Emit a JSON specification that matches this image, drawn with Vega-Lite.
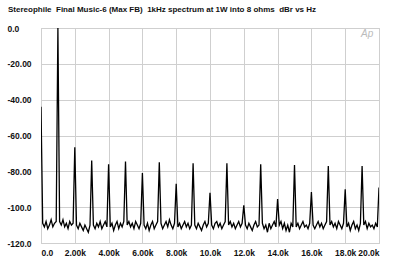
{
  "$schema": "https://vega.github.io/schema/vega-lite/v6.json",
  "width": 338,
  "height": 215,
  "autosize": {"type": "none"},
  "padding": {"left": 41, "top": 28, "right": 21, "bottom": 20},
  "background": "white",
  "title": {
    "text": "Stereophile \u00a0Final Music-6 (Max FB) \u00a01kHz spectrum at 1W into 8 ohms \u00a0dBr vs Hz",
    "anchor": "start",
    "frame": "group",
    "dx": -33,
    "offset": 10,
    "font": "Liberation Sans",
    "fontSize": 8,
    "fontWeight": "bold",
    "color": "#111"
  },
  "config": {
    "view": {"stroke": "#c8c8c8", "strokeWidth": 1},
    "axis": {
      "labelFont": "Liberation Sans",
      "labelFontWeight": "bold",
      "labelFontSize": 8.5,
      "labelColor": "#111",
      "labelOverlap": false,
      "labelBound": false,
      "gridColor": "#cfcfcf",
      "gridWidth": 1,
      "gridOpacity": 1,
      "domain": false,
      "ticks": false,
      "title": null
    }
  },
  "encoding": {
    "x": {
      "field": "f", "type": "quantitative",
      "scale": {"domain": [0, 20000], "nice": false, "zero": false},
      "axis": {
        "values": [0,2000,4000,6000,8000,10000,12000,14000,16000,18000,20000],
        "tickCount": 20,
        "labelPadding": 5,
        "labelOverlap": false,
        "labelExpr": "datum.value == 0 ? '0.0' : (datum.value < 10000 ? format(datum.value/1000, '.2f') + 'k' : format(datum.value/1000, '.1f') + 'k')"
      }
    },
    "y": {
      "field": "db", "type": "quantitative",
      "scale": {"domain": [-120, 0], "nice": false},
      "axis": {
        "values": [0,-20,-40,-60,-80,-100,-120],
        "tickCount": 12,
        "labelAlign": "left",
        "labelPadding": 34,
        "labelOverlap": false,
        "labelExpr": "datum.value == 0 ? '0.0' : (datum.value <= -100 ? '-' + format(-datum.value, '.1f') : '-' + format(-datum.value, '.2f'))"
      }
    }
  },
  "layer": [
    {
      "data": {"values": [
        {"f":0,"db":-44},{"f":100,"db":-109},{"f":200,"db":-111},{"f":300,"db":-108},{"f":400,"db":-112},{"f":500,"db":-110},{"f":600,"db":-107},{"f":700,"db":-111},{"f":800,"db":-109},{"f":900,"db":-108},
        {"f":1000,"db":0},{"f":1100,"db":-108},{"f":1200,"db":-110},{"f":1300,"db":-107},{"f":1400,"db":-111},{"f":1500,"db":-109},{"f":1600,"db":-112},{"f":1700,"db":-108},{"f":1800,"db":-110},{"f":1900,"db":-109},
        {"f":2000,"db":-66.5},{"f":2100,"db":-110},{"f":2200,"db":-112},{"f":2300,"db":-109},{"f":2400,"db":-111},{"f":2500,"db":-113},{"f":2600,"db":-110},{"f":2700,"db":-112},{"f":2800,"db":-114},{"f":2900,"db":-110},
        {"f":3000,"db":-74},{"f":3100,"db":-110},{"f":3200,"db":-112},{"f":3300,"db":-109},{"f":3400,"db":-111},{"f":3500,"db":-108},{"f":3600,"db":-112},{"f":3700,"db":-110},{"f":3800,"db":-108},{"f":3900,"db":-111},
        {"f":4000,"db":-76},{"f":4100,"db":-111},{"f":4200,"db":-109},{"f":4300,"db":-113},{"f":4400,"db":-110},{"f":4500,"db":-108},{"f":4600,"db":-112},{"f":4700,"db":-109},{"f":4800,"db":-111},{"f":4900,"db":-108},
        {"f":5000,"db":-74.5},{"f":5100,"db":-110},{"f":5200,"db":-108},{"f":5300,"db":-111},{"f":5400,"db":-109},{"f":5500,"db":-112},{"f":5600,"db":-108},{"f":5700,"db":-110},{"f":5800,"db":-112},{"f":5900,"db":-109},
        {"f":6000,"db":-81},{"f":6100,"db":-110},{"f":6200,"db":-112},{"f":6300,"db":-109},{"f":6400,"db":-113},{"f":6500,"db":-110},{"f":6600,"db":-108},{"f":6700,"db":-112},{"f":6800,"db":-110},{"f":6900,"db":-108},
        {"f":7000,"db":-75},{"f":7100,"db":-109},{"f":7200,"db":-112},{"f":7300,"db":-110},{"f":7400,"db":-108},{"f":7500,"db":-111},{"f":7600,"db":-107},{"f":7700,"db":-110},{"f":7800,"db":-112},{"f":7900,"db":-109},
        {"f":8000,"db":-87},{"f":8100,"db":-111},{"f":8200,"db":-109},{"f":8300,"db":-112},{"f":8400,"db":-110},{"f":8500,"db":-108},{"f":8600,"db":-111},{"f":8700,"db":-109},{"f":8800,"db":-112},{"f":8900,"db":-110},
        {"f":9000,"db":-75.5},{"f":9100,"db":-110},{"f":9200,"db":-112},{"f":9300,"db":-109},{"f":9400,"db":-111},{"f":9500,"db":-113},{"f":9600,"db":-110},{"f":9700,"db":-108},{"f":9800,"db":-111},{"f":9900,"db":-109},
        {"f":10000,"db":-92},{"f":10100,"db":-110},{"f":10200,"db":-112},{"f":10300,"db":-109},{"f":10400,"db":-108},{"f":10500,"db":-111},{"f":10600,"db":-109},{"f":10700,"db":-112},{"f":10800,"db":-110},{"f":10900,"db":-108},
        {"f":11000,"db":-75.5},{"f":11100,"db":-110},{"f":11200,"db":-108},{"f":11300,"db":-111},{"f":11400,"db":-109},{"f":11500,"db":-112},{"f":11600,"db":-110},{"f":11700,"db":-108},{"f":11800,"db":-111},{"f":11900,"db":-109},
        {"f":12000,"db":-99},{"f":12100,"db":-110},{"f":12200,"db":-112},{"f":12300,"db":-109},{"f":12400,"db":-111},{"f":12500,"db":-113},{"f":12600,"db":-110},{"f":12700,"db":-108},{"f":12800,"db":-111},{"f":12900,"db":-110},
        {"f":13000,"db":-76},{"f":13100,"db":-109},{"f":13200,"db":-112},{"f":13300,"db":-110},{"f":13400,"db":-114},{"f":13500,"db":-109},{"f":13600,"db":-112},{"f":13700,"db":-110},{"f":13800,"db":-108},{"f":13900,"db":-111},
        {"f":14000,"db":-95.5},{"f":14100,"db":-110},{"f":14200,"db":-108},{"f":14300,"db":-112},{"f":14400,"db":-109},{"f":14500,"db":-113},{"f":14600,"db":-110},{"f":14700,"db":-114},{"f":14800,"db":-109},{"f":14900,"db":-111},
        {"f":15000,"db":-76.5},{"f":15100,"db":-111},{"f":15200,"db":-109},{"f":15300,"db":-112},{"f":15400,"db":-110},{"f":15500,"db":-108},{"f":15600,"db":-111},{"f":15700,"db":-110},{"f":15800,"db":-112},{"f":15900,"db":-109},
        {"f":16000,"db":-91.5},{"f":16100,"db":-110},{"f":16200,"db":-112},{"f":16300,"db":-110},{"f":16400,"db":-108},{"f":16500,"db":-111},{"f":16600,"db":-109},{"f":16700,"db":-112},{"f":16800,"db":-110},{"f":16900,"db":-108},
        {"f":17000,"db":-77},{"f":17100,"db":-110},{"f":17200,"db":-108},{"f":17300,"db":-111},{"f":17400,"db":-109},{"f":17500,"db":-112},{"f":17600,"db":-108},{"f":17700,"db":-110},{"f":17800,"db":-112},{"f":17900,"db":-109},
        {"f":18000,"db":-90},{"f":18100,"db":-111},{"f":18200,"db":-109},{"f":18300,"db":-113},{"f":18400,"db":-110},{"f":18500,"db":-108},{"f":18600,"db":-112},{"f":18700,"db":-110},{"f":18800,"db":-113},{"f":18900,"db":-109},
        {"f":19000,"db":-77},{"f":19100,"db":-110},{"f":19200,"db":-108},{"f":19300,"db":-112},{"f":19400,"db":-109},{"f":19500,"db":-111},{"f":19600,"db":-110},{"f":19700,"db":-112},{"f":19800,"db":-109},{"f":19900,"db":-111},
        {"f":20000,"db":-89}
      ]},
      "mark": {"type": "line", "color": "#000", "strokeWidth": 1.3, "clip": true}
    },
    {
      "data": {"values": [{"f": 19300, "db": -3.5, "t": "Ap"}]},
      "mark": {"type": "text", "font": "Liberation Sans", "fontStyle": "italic", "fontSize": 10, "color": "#bbbbbb", "baseline": "middle", "align": "center"},
      "encoding": {
        "text": {"field": "t"}
      }
    }
  ]
}
